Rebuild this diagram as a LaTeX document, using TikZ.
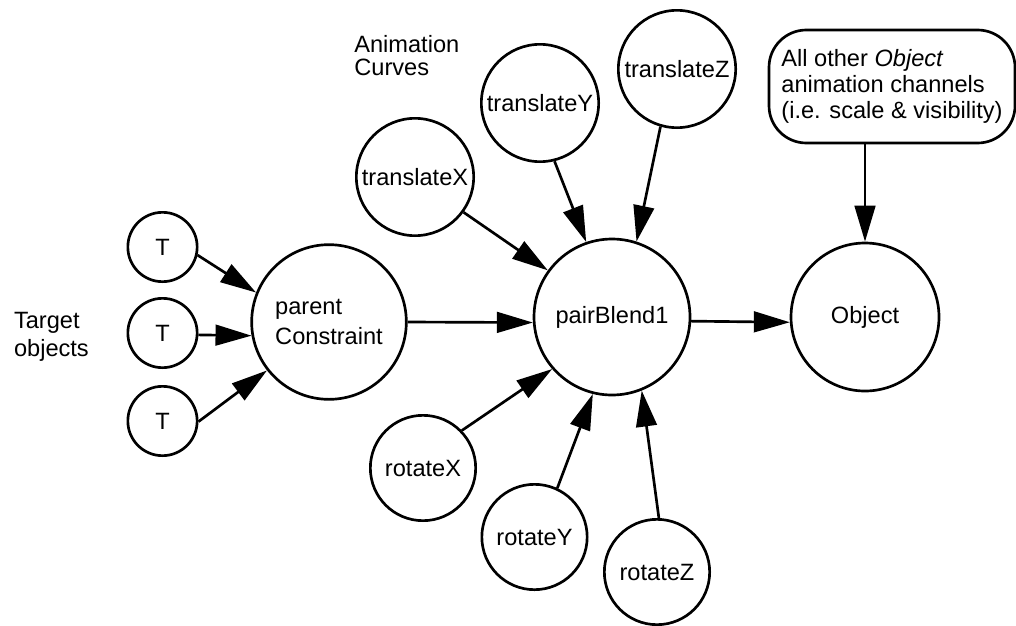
\documentclass[tikz,border=0pt]{standalone}
\usepackage{fontspec}
\setmainfont{Liberation Sans}
\usetikzlibrary{arrows.meta}
\begin{document}
\begin{tikzpicture}[x=0.75pt,y=-0.75pt,line width=2pt,
  every node/.style={font=\fontsize{17.7pt}{21pt}\selectfont},
  circ/.style={draw,circle,inner sep=0pt},
  tcirc/.style={circ,minimum size=52pt},
  bigcirc/.style={circ,minimum size=116pt},
  trcirc/.style={circ,minimum size=88pt},
  rocirc/.style={circ,minimum size=79pt},
  label/.style={inner sep=0pt,align=left,anchor=north west},
  arr/.style={-{Triangle[length=27pt,width=15.5pt]}}
]
\useasboundingbox (0,0) rectangle (1016,625);

% target objects
\node[tcirc] (t1) at (162.5,247) {T};
\node[tcirc] (t2) at (162.5,333) {T};
\node[tcirc] (t3) at (162.5,421) {T};
\node[label,font=\fontsize{17.7pt}{21pt}\selectfont] (tlab) at (12.7,311) {Target\\objects};

% main chain
\node[bigcirc,align=left,font=\fontsize{17.7pt}{22pt}\selectfont] (pc) at (329,322) {parent\\Constraint};
\node[bigcirc,minimum size=117pt] (pb) at (612,317) {pairBlend1};
\node[bigcirc,minimum size=111pt] (obj) at (865,317) {Object};

% animation curves
\node[label,font=\fontsize{17.7pt}{16.7pt}\selectfont] (alab) at (353,34.5) {Animation\\Curves};
\node[trcirc] (tx) at (415,177) {translateX};
\node[trcirc] (ty) at (540,103) {translateY};
\node[trcirc] (tz) at (677,69) {translateZ};
\node[rocirc] (rx) at (423,468) {rotateX};
\node[rocirc] (ry) at (534.5,537) {rotateY};
\node[rocirc] (rz) at (657,572) {rotateZ};

% other channels box
\node[draw,rectangle,rounded corners=28pt,inner sep=0pt,align=left,
      minimum width=184.5pt,minimum height=84.75pt,
      font=\fontsize{17.7pt}{19.3pt}\selectfont] (box) at (892,86.5)
  {All other \textit{Object}\\animation channels\\(i.e. scale \& visibility)};

% connectors
\draw[arr] (t1.-13) -- (pc.158.6);
\draw[arr] (t2.-3) -- (pc.190);
\draw[arr] (t3.-1) -- (pc.218.6);
\draw[arr] (pc.0) -- (pb.184);
\draw[arr] (pb.-3.6) -- (obj.184);
\draw[arr] (tx.-36.3) -- (pb.144.4);
\draw[arr] (ty.-76.4) -- (pb.109.4);
\draw[arr] (tz.254.6) -- (pb.72.3);
\draw[arr] (rx.44.7) -- (pb.221.6);
\draw[arr] (ry.65.5) -- (pb.256.6);
\draw[arr] (rz.88.6) -- (pb.-68.7);
\draw[arr] (box.south -| obj.north) -- (obj.north);
\end{tikzpicture}
\end{document}
